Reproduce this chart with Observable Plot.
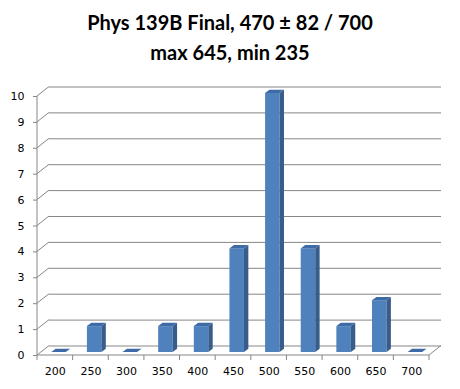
<!DOCTYPE html>
<html><head><meta charset="utf-8">
<script src="https://cdn.jsdelivr.net/npm/d3@7"></script>
<script src="https://cdn.jsdelivr.net/npm/@observablehq/plot@0.6"></script>
<style>
body{margin:0;background:#fff;}
#wrap{width:460px;height:389px;position:relative;background:#fff;overflow:hidden;}
#title{height:70px;box-sizing:border-box;padding-top:7px;text-align:center;font-family:Lato,sans-serif;font-weight:bold;font-size:20px;line-height:30px;color:#000;}
#chart svg g[aria-label="y-axis tick"] path{stroke:#868686;}
</style></head><body>
<div id="wrap">
<div id="title"><div>Phys 139B Final, 470 ± 82 / 700</div><div>max 645, min 235</div></div>
<div id="chart"></div>
</div>
<script>
const bins = ["200","250","300","350","400","450","500","550","600","650","700"];
const counts = [0,1,0,1,1,4,10,4,1,2,0];
const yTicks = [0,1,2,3,4,5,6,7,8,9,10];

const data = bins.map((b,i)=>({bin:b,count:counts[i]}));

const DX = 12, DY = 9.5;          // chart depth (back plane offset)
const BW = 14.5;                  // bar front width
const OX = 3.7, OY = -3;          // bar front offset from front plane
const BDX = 4.4, BDY = 3.3;       // bar depth
const GRID = "#868686";

function decor(index, scales, values, dims) {
  const g = d3.create("svg:g").attr("fill","none").attr("stroke",GRID).attr("stroke-width",1);
  const xl = dims.marginLeft, xr = dims.width - dims.marginRight;
  const ys = Array.from(index, i => values.y[i]);
  const y0 = Math.max(...ys), yTop = Math.min(...ys);
  for (const y of ys) {
    g.append("line").attr("x1",xl).attr("y1",y).attr("x2",xl+DX).attr("y2",y-DY);
  }
  // left axis line
  g.append("line").attr("x1",xl).attr("y1",yTop).attr("x2",xl).attr("y2",y0);
  // floor front edge and right edge
  g.append("line").attr("x1",xl).attr("y1",y0).attr("x2",xr).attr("y2",y0);
  g.append("line").attr("x1",xr).attr("y1",y0).attr("x2",xr+DX).attr("y2",y0-DY);
  // category boundary ticks
  const bw = (xr - xl) / bins.length;
  for (let k = 0; k <= bins.length; k++) {
    const x = xl + k*bw;
    g.append("line").attr("x1",x).attr("y1",y0).attr("x2",x).attr("y2",y0+5);
  }
  return g.node();
}

function bars3d(index, scales, values, dims) {
  const g = d3.create("svg:g");
  const bw = (dims.width - dims.marginLeft - dims.marginRight) / bins.length;
  for (const i of index) {
    const x0 = values.x[i] + (bw - BW)/2 + OX, x1 = x0 + BW;
    const yb = values.y1[i] + OY, yt = values.y2[i] + OY;
    if (yb - yt > 0.5) {
      g.append("rect").attr("x",x0).attr("y",yt).attr("width",BW).attr("height",yb-yt).attr("fill","#4F81BD");
      g.append("path").attr("d",`M${x1},${yb}L${x1},${yt}L${x1+BDX},${yt-BDY}L${x1+BDX},${yb-BDY}Z`).attr("fill","#385D8A");
    }
    g.append("path").attr("d",`M${x0},${yt}L${x1},${yt}L${x1+BDX},${yt-BDY}L${x0+BDX},${yt-BDY}Z`).attr("fill","#3E6BA6");
  }
  return g.node();
}

const plot = Plot.plot({
  width: 460,
  height: 319,
  marginLeft: 37,
  marginRight: 31,
  marginTop: 26,
  marginBottom: 34,
  style: {fontFamily: "'DejaVu Sans', Verdana, sans-serif", fontSize: "11px", color: "#000", background: "#fff"},
  x: {type: "band", domain: bins, padding: 0, round: false, label: null},
  y: {domain: [0, 10], ticks: yTicks, label: null},
  marks: [
    Plot.ruleY(yTicks, {y: d => d, dx: DX, dy: -DY, stroke: GRID}),
    Plot.ruleY(yTicks, {y: d => d, render: decor}),
    Plot.barY(data, {x: "bin", y: "count", render: bars3d}),
    Plot.axisY({ticks: yTicks, tickSize: 4, tickPadding: 9, label: null}),
    Plot.axisX({tickSize: 0, tickPadding: 12, label: null})
  ]
});
document.getElementById("chart").appendChild(plot);
</script>
</body></html>
